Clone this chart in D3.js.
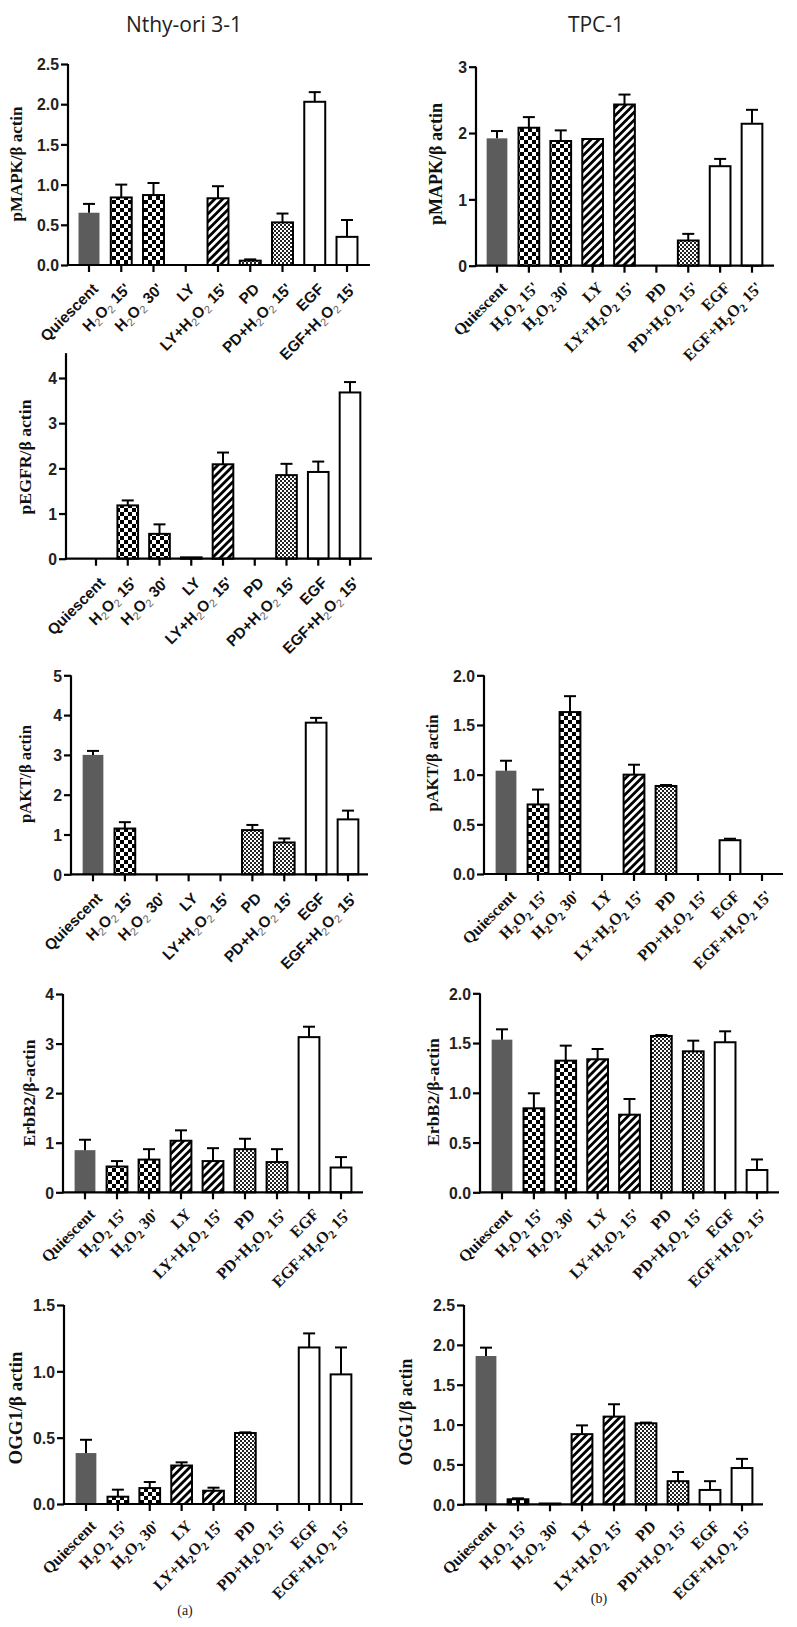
<!DOCTYPE html>
<html><head><meta charset="utf-8">
<script src="https://cdn.jsdelivr.net/npm/d3@7"></script>
<style>body{margin:0;background:#fff}</style>
</head><body>
<svg id="fig" width="797" height="1627"></svg>
<script>
// ---------------- DATA ----------------
const categories = ["Quiescent","H2O2 15'","H2O2 30'","LY","LY+H2O2 15'","PD","PD+H2O2 15'","EGF","EGF+H2O2 15'"];
const fillTypes  = ["solid","checker","checker","stripe","stripe","fine","fine","white","white"];

const nthyMapk     = [0.65, 0.84, 0.87, 0, 0.83, 0.054, 0.53, 2.03, 0.35];
const nthyMapkErr  = [0.11, 0.16, 0.15, 0, 0.15, 0.016, 0.11, 0.12, 0.21];
const tpcMapk      = [1.92, 2.08, 1.88, 1.91, 2.43, 0, 0.38, 1.50, 2.14];
const tpcMapkErr   = [0.11, 0.16, 0.16, 0, 0.15, 0, 0.10, 0.11, 0.21];
const nthyEgfr     = [0, 1.18, 0.55, 0.03, 2.09, 0, 1.85, 1.92, 3.68];
const nthyEgfrErr  = [0, 0.11, 0.21, 0, 0.26, 0, 0.25, 0.23, 0.23];
const nthyAkt      = [3.0, 1.15, 0, 0, 0, 1.11, 0.80, 3.81, 1.38];
const nthyAktErr   = [0.10, 0.16, 0, 0, 0, 0.13, 0.10, 0.12, 0.22];
const tpcAkt       = [1.04, 0.70, 1.63, 0, 1.00, 0.886, 0, 0.34, 0];
const tpcAktErr    = [0.10, 0.15, 0.16, 0, 0.10, 0.01, 0, 0.015, 0];
const nthyErbb2    = [0.85, 0.52, 0.66, 1.04, 0.63, 0.87, 0.61, 3.13, 0.50];
const nthyErbb2Err = [0.21, 0.11, 0.21, 0.21, 0.26, 0.21, 0.26, 0.21, 0.21];
const tpcErbb2     = [1.534, 0.844, 1.323, 1.337, 0.78, 1.571, 1.417, 1.508, 0.224];
const tpcErbb2Err  = [0.104, 0.151, 0.151, 0.103, 0.158, 0.01, 0.107, 0.11, 0.106];
const nthyOgg1     = [0.384, 0.055, 0.12, 0.29, 0.10, 0.535, 0, 1.18, 0.977];
const nthyOgg1Err  = [0.10, 0.053, 0.046, 0.024, 0.023, 0.005, 0, 0.106, 0.203];
const tpcOgg1      = [1.86, 0.063, 0.01, 0.88, 1.10, 1.016, 0.29, 0.18, 0.455];
const tpcOgg1Err   = [0.105, 0.012, 0, 0.11, 0.155, 0.009, 0.115, 0.11, 0.115];

const ticksMapkNthy  = [0, 0.5, 1.0, 1.5, 2.0, 2.5];
const ticksMapkTpc   = [0, 1, 2, 3];
const ticksEgfrNthy  = [0, 1, 2, 3, 4];
const ticksAktNthy   = [0, 1, 2, 3, 4, 5];
const ticksAktTpc    = [0, 0.5, 1.0, 1.5, 2.0];
const ticksErbNthy   = [0, 1, 2, 3, 4];
const ticksErbTpc    = [0, 0.5, 1.0, 1.5, 2.0];
const ticksOggNthy   = [0, 0.5, 1.0, 1.5];
const ticksOggTpc    = [0, 0.5, 1.0, 1.5, 2.0, 2.5];

const columnTitles = ["Nthy-ori 3-1", "TPC-1"];
const captions = ["(a)", "(b)"];

// ---------------- LAYOUT ----------------
const panels = [
  {v: nthyMapk, e: nthyMapkErr, ticks: ticksMapkNthy, fmt: ".1f", max: 2.5, ax: 68, y0: 265, yTop: 64, c0: 89, c1: 347, xEnd: 370, title: "pMAPK/β actin", tx: 18, ty: 164, tlen: 115, font: "sans"},
  {v: tpcMapk, e: tpcMapkErr, ticks: ticksMapkTpc, fmt: "d", max: 3, ax: 476, y0: 265.7, yTop: 66.7, c0: 497, c1: 752, xEnd: 774, title: "pMAPK/β actin", tx: 438, ty: 164, tlen: 122, font: "serif"},
  {v: nthyEgfr, e: nthyEgfrErr, ticks: ticksEgfrNthy, fmt: "d", max: 4.55, ax: 66, y0: 558.7, yTop: 378, c0: 96, c1: 350, xEnd: 372, title: "pEGFR/β actin", tx: 27, ty: 457, tlen: 115, font: "sans"},
  {v: nthyAkt, e: nthyAktErr, ticks: ticksAktNthy, fmt: "d", max: 5, ax: 71, y0: 874.3, yTop: 675.3, c0: 93, c1: 348, xEnd: 368, title: "pAKT/β actin", tx: 27, ty: 774, tlen: 98, font: "sans"},
  {v: tpcAkt, e: tpcAktErr, ticks: ticksAktTpc, fmt: ".1f", max: 2, ax: 484, y0: 874, yTop: 675.3, c0: 506, c1: 762, xEnd: 783, title: "pAKT/β actin", tx: 434, ty: 763, tlen: 97, font: "serif"},
  {v: nthyErbb2, e: nthyErbb2Err, ticks: ticksErbNthy, fmt: "d", max: 4, ax: 63, y0: 1192.3, yTop: 994, c0: 85, c1: 341, xEnd: 363, title: "ErbB2/β-actin", tx: 31, ty: 1093, tlen: 107, font: "serif"},
  {v: tpcErbb2, e: tpcErbb2Err, ticks: ticksErbTpc, fmt: ".1f", max: 2, ax: 480, y0: 1192.3, yTop: 993.3, c0: 502, c1: 757, xEnd: 779, title: "ErbB2/β-actin", tx: 435, ty: 1092, tlen: 108, font: "serif"},
  {v: nthyOgg1, e: nthyOgg1Err, ticks: ticksOggNthy, fmt: ".1f", max: 1.5, ax: 64, y0: 1504, yTop: 1305, c0: 86, c1: 341, xEnd: 363, title: "OGG1/β actin", tx: 18, ty: 1408, tlen: 113, font: "serif"},
  {v: tpcOgg1, e: tpcOgg1Err, ticks: ticksOggTpc, fmt: ".1f", max: 2.5, ax: 464, y0: 1504.3, yTop: 1305, c0: 486, c1: 742, xEnd: 763, title: "OGG1/β actin", tx: 408, ty: 1412, tlen: 107, font: "serif"}
];

const SANS = "'Liberation Sans', Arial, sans-serif";
const SERIF = "'Liberation Serif', 'Times New Roman', serif";

const svg = d3.select("#fig");
const defs = svg.append("defs");

function fitSize(str, family, weight, target) {
  const t = svg.append("text").attr("font-family", family).attr("font-weight", weight)
    .attr("font-size", 20).text(str);
  const L = t.node().getComputedTextLength();
  t.remove();
  return 20 * target / L;
}
const tickSize = fitSize("2.5", SANS, "bold", 22);
const xSansSize = fitSize("Quiescent", SANS, "bold", 74);
const xSerifSize = fitSize("Quiescent", SERIF, "bold", 68);

// patterns
const chk = defs.append("pattern").attr("id", "checker").attr("patternUnits", "userSpaceOnUse").attr("width", 8).attr("height", 8);
chk.append("rect").attr("width", 8).attr("height", 8).attr("fill", "#fff");
chk.append("rect").attr("width", 4).attr("height", 4).attr("fill", "#000");
chk.append("rect").attr("x", 4).attr("y", 4).attr("width", 4).attr("height", 4).attr("fill", "#000");

const fine = defs.append("pattern").attr("id", "fine").attr("patternUnits", "userSpaceOnUse").attr("width", 4).attr("height", 4);
fine.append("rect").attr("width", 4).attr("height", 4).attr("fill", "#fff");
fine.append("rect").attr("width", 2).attr("height", 2).attr("fill", "#222");
fine.append("rect").attr("x", 2).attr("y", 2).attr("width", 2).attr("height", 2).attr("fill", "#222");

const str = defs.append("pattern").attr("id", "stripe").attr("patternUnits", "userSpaceOnUse").attr("width", 5.6).attr("height", 5.6).attr("patternTransform", "rotate(45)");
str.append("rect").attr("width", 5.6).attr("height", 5.6).attr("fill", "#fff");
str.append("rect").attr("width", 2.8).attr("height", 5.6).attr("fill", "#000");

function fillOf(t) {
  if (t === "solid") return "#5c5c5c";
  if (t === "checker") return "url(#checker)";
  if (t === "stripe") return "url(#stripe)";
  if (t === "fine") return "url(#fine)";
  return "#fff";
}

function addLabel(textSel, label, serif, size) {
  const parts = [];
  let buf = "";
  for (let i = 0; i < label.length; i++) {
    const ch = label[i];
    if (ch === "2" && i > 0 && (label[i-1] === "H" || label[i-1] === "O")) {
      if (buf) parts.push({t: buf, sub: false});
      buf = "";
      parts.push({t: "2", sub: true});
    } else buf += ch;
  }
  if (buf) parts.push({t: buf, sub: false});
  let shifted = false;
  const sh = size * 0.22;
  parts.forEach(p => {
    const ts = textSel.append("tspan").text(p.t);
    if (p.sub) {
      ts.attr("dy", shifted ? 0 : sh).attr("font-size", size * 0.72)
        .attr("fill", serif ? "#111" : "#666").attr("font-weight", serif ? "bold" : "normal");
      shifted = true;
    } else if (shifted) {
      ts.attr("dy", -sh);
      shifted = false;
    }
  });
}

panels.forEach(p => {
  const g = svg.append("g");
  const step = (p.c1 - p.c0) / (categories.length - 1);
  const x = d3.scaleBand().domain(categories).range([p.c0 - step / 2, p.c1 + step / 2])
    .paddingInner(0.35).paddingOuter(0.175);
  const tickMax = p.ticks[p.ticks.length - 1];
  const y = d3.scaleLinear().domain([0, tickMax]).range([p.y0, p.yTop]);

  const data = categories.map((c, i) => ({c, v: p.v[i], e: p.e[i], f: fillTypes[i]}));
  g.selectAll("rect.bar").data(data.filter(d => d.v > 0)).join("rect")
    .attr("class", "bar")
    .attr("x", d => x(d.c)).attr("width", x.bandwidth())
    .attr("y", d => y(d.v)).attr("height", d => y(0) - y(d.v))
    .attr("fill", d => fillOf(d.f))
    .attr("stroke", d => d.f === "solid" ? "none" : "#000")
    .attr("stroke-width", 2);

  const eb = data.filter(d => d.v > 0 && d.e > 0);
  g.selectAll("line.eb").data(eb).join("line")
    .attr("x1", d => x(d.c) + x.bandwidth() / 2).attr("x2", d => x(d.c) + x.bandwidth() / 2)
    .attr("y1", d => y(d.v)).attr("y2", d => y(d.v + d.e))
    .attr("stroke", "#000").attr("stroke-width", 2);
  g.selectAll("line.cap").data(eb).join("line")
    .attr("x1", d => x(d.c) + x.bandwidth() / 2 - 6).attr("x2", d => x(d.c) + x.bandwidth() / 2 + 6)
    .attr("y1", d => y(d.v + d.e)).attr("y2", d => y(d.v + d.e))
    .attr("stroke", "#000").attr("stroke-width", 2);

  // y axis
  const yAx = g.append("g").attr("transform", `translate(${p.ax},0)`)
    .call(d3.axisLeft(y).tickValues(p.ticks).tickFormat(d3.format(p.fmt)).tickSize(7).tickSizeOuter(0));
  yAx.select(".domain").remove();
  yAx.append("line").attr("x1", 0).attr("x2", 0).attr("y1", p.y0 + 1)
    .attr("y2", y(p.max)).attr("stroke", "#000").attr("stroke-width", 2.2);
  yAx.selectAll(".tick line").attr("stroke-width", 2.2);
  yAx.selectAll(".tick text").attr("font-family", SANS).attr("font-weight", "bold")
    .attr("font-size", tickSize).attr("fill", "#222").attr("x", -9).attr("dy", "0.36em");

  // x axis
  const xAx = g.append("g").attr("transform", `translate(0,${p.y0})`)
    .call(d3.axisBottom(x).tickSize(7).tickSizeOuter(0).tickFormat(""));
  xAx.select(".domain").remove();
  xAx.selectAll(".tick line").attr("stroke-width", 2.2);
  xAx.append("line").attr("x1", p.ax - 1).attr("x2", p.xEnd).attr("y1", 0).attr("y2", 0)
    .attr("stroke", "#000").attr("stroke-width", 2.2);

  const serif = p.font === "serif";
  const fs = serif ? xSerifSize : xSansSize;
  const dx = serif ? 11 : 10, dy = serif ? 23 : 25;
  categories.forEach(c => {
    const cx = x(c) + x.bandwidth() / 2;
    const t = g.append("text")
      .attr("transform", `translate(${cx + dx},${p.y0 + dy}) rotate(-45)`)
      .attr("text-anchor", "end")
      .attr("font-family", serif ? SERIF : SANS)
      .attr("font-weight", "bold")
      .attr("font-size", fs)
      .attr("fill", "#111");
    addLabel(t, c, serif, fs);
  });

  // y title
  const ts = fitSize(p.title, SERIF, "bold", p.tlen);
  g.append("text")
    .attr("transform", `translate(${p.tx + 4},${p.ty}) rotate(-90)`)
    .attr("text-anchor", "middle")
    .attr("font-family", SERIF).attr("font-weight", "bold").attr("font-size", ts)
    .attr("fill", "#111")
    .text(p.title);
});

// column titles
svg.append("text").attr("x", 184).attr("y", 32).attr("text-anchor", "middle")
  .attr("font-family", "'Open Sans', sans-serif").attr("font-size", 21).attr("fill", "#222").text(columnTitles[0]);
svg.append("text").attr("x", 596).attr("y", 32).attr("text-anchor", "middle")
  .attr("font-family", "'Open Sans', sans-serif").attr("font-size", 21).attr("fill", "#222").text(columnTitles[1]);

// captions
svg.append("text").attr("x", 185).attr("y", 1615).attr("text-anchor", "middle")
  .attr("font-family", SERIF).attr("font-size", 14).attr("fill", "#222").text(captions[0]);
svg.append("text").attr("x", 599).attr("y", 1603).attr("text-anchor", "middle")
  .attr("font-family", SERIF).attr("font-size", 14).attr("fill", "#222").text(captions[1]);
</script>
</body></html>
